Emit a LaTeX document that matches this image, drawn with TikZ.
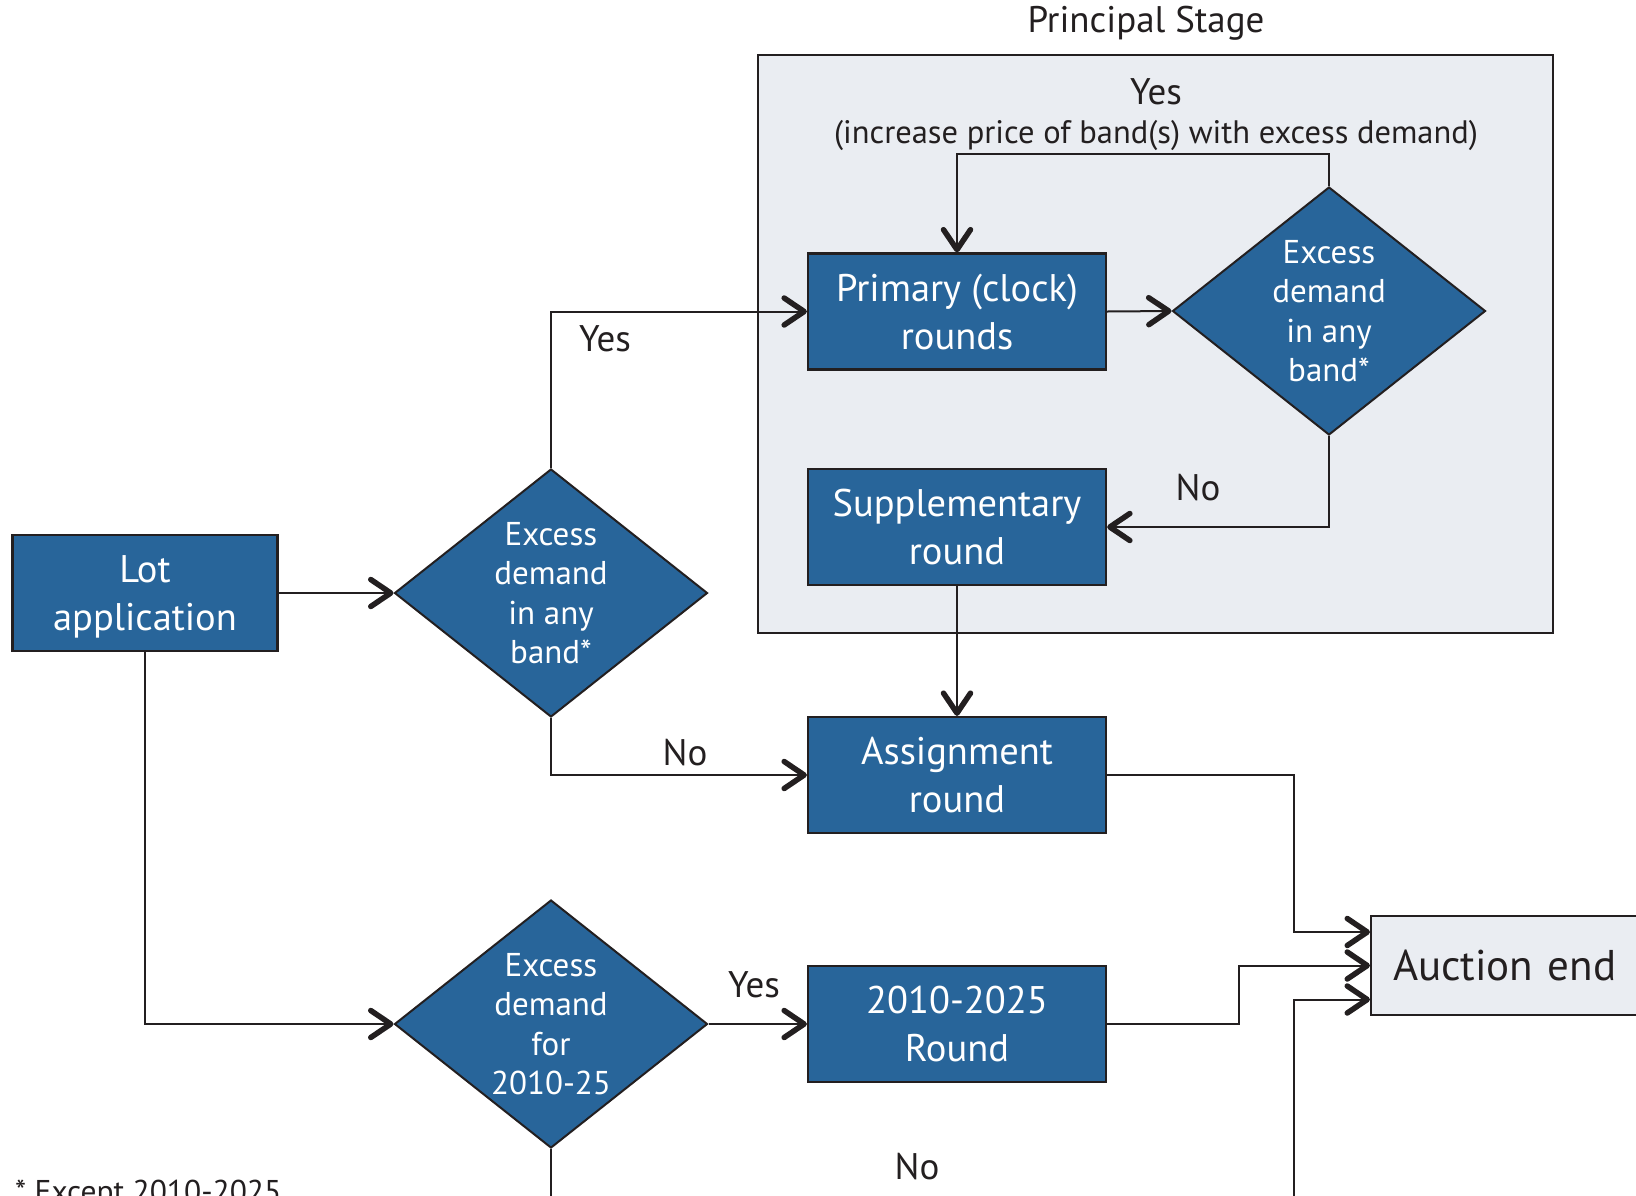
\documentclass[tikz,border=0pt]{standalone}
\usepackage{fontspec}
\setmainfont{PT Sans}
\usetikzlibrary{positioning,shapes.geometric,arrows.meta}
\definecolor{prim}{HTML}{28659A}
\definecolor{pale}{HTML}{EAEDF2}
\definecolor{ink}{HTML}{231F20}

\begin{document}
\begin{tikzpicture}[x=1pt,y=-1pt,
  proc/.style={draw=ink,fill=prim,line width=2.2pt,text=white,minimum width=298pt,minimum height=116pt,align=center,inner sep=0pt,text depth=0pt,font=\fontsize{38.5}{48}\selectfont},
  dec/.style={diamond,draw=ink,fill=prim,line width=2pt,text=white,minimum width=313pt,minimum height=248pt,aspect=1.26,align=center,inner sep=-12pt,font=\fontsize{33}{39.5}\selectfont},
  arr/.style={-{Straight Barb[length=20pt,width=27pt,line width=5.5pt,round]},ink,line width=2pt},
  lbl/.style={font=\fontsize{37}{42}\selectfont,text=ink}]
\clip (0,0) rectangle (1636,1195);
% principal stage frame
\node[draw=ink,fill=pale,line width=2pt,minimum width=795pt,minimum height=578pt] (stage) at (1155,344) {};
\node[lbl] (title) at (1146,23) {Principal Stage};
\node[lbl] (yesup) at (1156,92) {Yes};
\node[font=\fontsize{32.5}{38}\selectfont,text=ink] (incr) at (1156,135) {(increase price of band(s) with excess demand)};
% boxes
\node[proc,minimum width=265pt] (lot) at (145,593) {Lot\\application};
\node[proc] (primary) at (957,311.5) {Primary (clock)\\rounds};
\node[proc] (supp) at (957,527) {Supplementary\\round};
\node[proc] (assign) at (957,775) {Assignment\\round};
\node[proc] (r2010) at (957,1024) {2010-2025\\Round};
\node[draw=ink,fill=pale,line width=2pt,anchor=west,minimum height=99pt,text width=286pt,inner xsep=22pt,align=left,font=\fontsize{43}{50}\selectfont,text=ink] (auction) at (1370,965.5) {Auction end};
% decisions
\node[dec] (d1) at (551,593) {Excess\\demand\\in any\\band*};
\node[dec] (d2) at (1329,311) {Excess\\demand\\in any\\band*};
\node[dec] (d3) at (551,1024) {Excess\\demand\\for\\2010-25};
% connectors
\coordinate (loop) at (957,154);
\coordinate (j1) at (1294,932);
\coordinate (j2) at (1239,965.5);
\coordinate (j3) at (1294,1200);
\coordinate (d3out) at (551,1200);
\draw[arr] (lot.east |- d1.west) -- (d1.west);
\draw[arr] (d1.north) |- (primary.west);
\draw[arr] (d1.south) |- (assign.west);
\draw[arr] (primary.east) -- (d2.west);
\draw[arr] (d2.north) |- (loop) -- (primary.north);
\draw[arr] (d2.south) |- (supp.east);
\draw[arr] (supp.south) -- (assign.north);
\draw[arr] (assign.east) -| (j1) -- (j1 -| auction.west);
\draw[arr] (r2010.east) -| (j2) -- (auction.west);
\draw[arr] (j3) |- ([yshift=-34pt]auction.west);
\draw[arr] (lot.south) |- (d3.west);
\draw[arr] (d3.east) -- (r2010.west);
\draw[ink,line width=2pt] (d3.south) -- (d3out);
% labels
\node[lbl] (yes1) at (605,339) {Yes};
\node[lbl] (no1) at (685,753) {No};
\node[lbl] (no2) at (1198,488) {No};
\node[lbl] (yes2) at (754,985) {Yes};
\node[lbl] (no3) at (917,1167) {No};
\node[font=\fontsize{31.5}{36}\selectfont,text=ink,anchor=north west,inner sep=0pt] (note) at (15,1180) {* Except 2010-2025};
\end{tikzpicture}
\end{document}
